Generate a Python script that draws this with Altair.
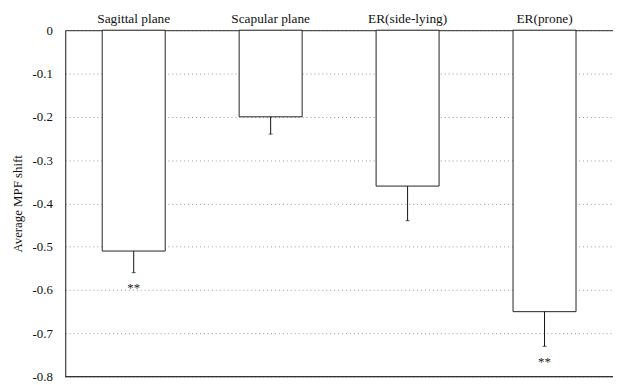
import altair as alt
import pandas as pd

categories = ["Sagittal plane", "Scapular plane", "ER(side-lying)", "ER(prone)"]
means = [-0.51, -0.20, -0.36, -0.65]
errors = [0.05, 0.04, 0.08, 0.08]
sig = ["**", "", "", "**"]
y_ticks = [0, -0.1, -0.2, -0.3, -0.4, -0.5, -0.6, -0.7, -0.8]

df = pd.DataFrame({"cat": categories, "mean": means, "err": errors, "sig": sig})
df["low"] = df["mean"] - df["err"]
df["zero"] = 0.0

FONT = "Liberation Serif"

x = alt.X("cat:N", sort=categories, title=None,
          scale=alt.Scale(paddingInner=0.54, paddingOuter=0.27),
          axis=alt.Axis(orient="top", labelAngle=0, ticks=False, domain=True,
                        domainColor="#333", labelFont=FONT, labelFontSize=13.5,
                        labelColor="#111", labelPadding=5))
yscale = alt.Scale(domain=[-0.8, 0], nice=False)

base = alt.Chart(df)

bars = base.mark_bar(fill="white", stroke="#222", strokeWidth=1).encode(
    x=x,
    y=alt.Y("mean:Q", scale=yscale, title="Average MPF shift",
            axis=alt.Axis(values=y_ticks, format="g",
                          labelExpr="replace(datum.label, '\u2212', '-')",
                          ticks=False, domain=True,
                          domainColor="#222", grid=True, gridColor="#999",
                          gridDash=[1, 3], labelFont=FONT, labelFontSize=13,
                          labelColor="#111", labelPadding=13, titleFont=FONT,
                          titleFontSize=13, titleFontWeight="normal",
                          titleColor="#111", titlePadding=8)),
    y2="zero:Q",
)

err = base.mark_rule(color="#111", strokeWidth=1).encode(
    x=alt.X("cat:N", sort=categories), y=alt.Y("mean:Q"), y2="low:Q"
)
caps = base.mark_tick(color="#111", size=4, thickness=1).encode(
    x=alt.X("cat:N", sort=categories), y=alt.Y("low:Q")
)
stars = base.mark_text(font=FONT, fontSize=13, color="#222", dy=16,
                       baseline="middle").encode(
    x=alt.X("cat:N", sort=categories), y=alt.Y("low:Q"), text="sig:N"
)
bottom = alt.Chart(pd.DataFrame({"v": [y_ticks[-1]]})).mark_rule(
    color="#333", strokeWidth=1.2).encode(y=alt.Y("v:Q", scale=yscale))

chart = alt.layer(bars, err, caps, stars, bottom).properties(
    width=555, height=351,
    autosize=alt.AutoSizeParams(type="none"),
    padding={"left": 58, "top": 20, "right": 0, "bottom": 5},
).configure_view(stroke=None).configure(
    background="white", font=FONT
).configure_axis(labelFont=FONT, titleFont=FONT)

chart.save("out.html", embed_options={"renderer": "svg", "actions": False})
